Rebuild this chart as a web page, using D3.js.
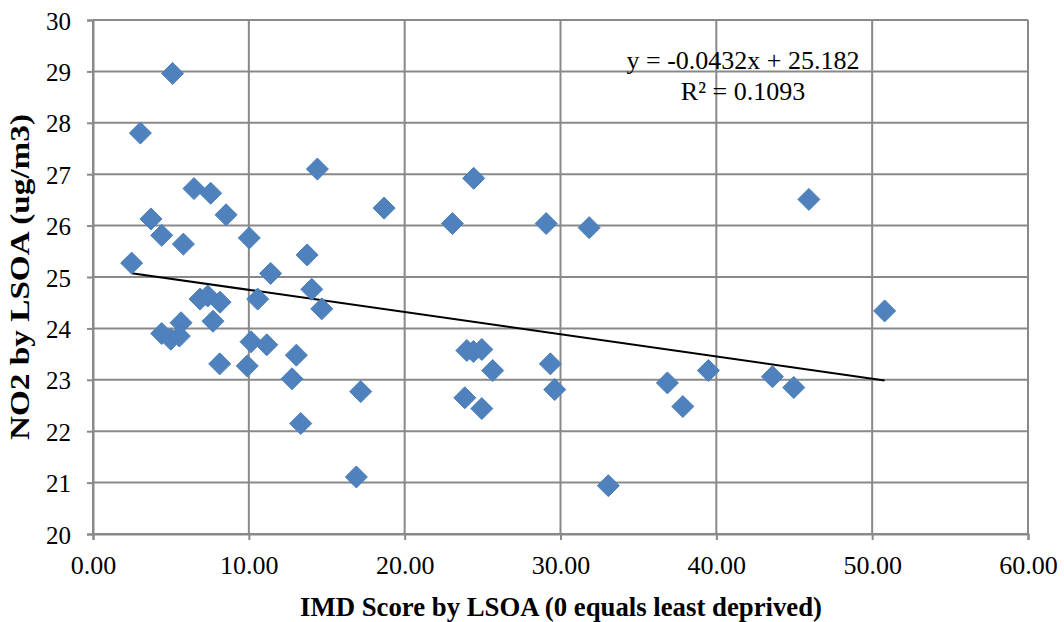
<!DOCTYPE html>
<html>
<head>
<meta charset="utf-8">
<script src="https://cdn.jsdelivr.net/npm/d3@7"></script>
<style>
  html, body { margin: 0; padding: 0; background: #fff; }
  svg { display: block; }
  text { font-family: "Liberation Serif", "Times New Roman", serif; fill: #000; }
</style>
</head>
<body>
<svg id="chart" width="1064" height="622"></svg>
<script>
// IMD score per LSOA (x) and NO2 concentration per LSOA (y)
const imdScore = [
  2.48, 3.04, 5.11, 3.72, 4.41, 5.80, 6.48, 7.55, 8.54, 10.03,
  11.40, 13.74, 14.40, 18.68, 6.87, 7.36, 8.15, 10.57, 14.04, 14.68,
  5.65, 7.70, 4.41, 4.99, 5.54, 10.14, 11.15, 8.13, 9.90, 13.05,
  12.77, 17.18, 13.33, 16.90, 24.43, 23.06, 29.08, 31.84, 23.99, 24.41,
  24.95, 25.65, 29.35, 29.63, 23.86, 24.95, 33.07, 36.86, 37.85, 39.49,
  45.94, 50.80, 43.60, 44.97
];
const no2 = [
  25.27, 27.80, 28.96, 26.13, 25.81, 25.64, 26.72, 26.63, 26.21, 25.76,
  25.07, 25.43, 27.10, 26.34, 24.57, 24.63, 24.51, 24.57, 24.76, 24.38,
  24.11, 24.14, 23.90, 23.79, 23.85, 23.74, 23.68, 23.31, 23.27, 23.48,
  23.02, 22.77, 22.15, 21.11, 26.92, 26.04, 26.04, 25.96, 23.57, 23.55,
  23.59, 23.18, 23.31, 22.81, 22.65, 22.44, 20.94, 22.94, 22.48, 23.18,
  26.51, 24.34, 23.06, 22.85
];

// Linear trend line
const trendSlope = -0.0432;
const trendIntercept = 25.182;
const rSquared = 0.1093;

const xTicks = [0, 10, 20, 30, 40, 50, 60];
const yTicks = [20, 21, 22, 23, 24, 25, 26, 27, 28, 29, 30];

const xTitle = "IMD Score by LSOA (0 equals least deprived)";
const yTitle = "NO2 by LSOA (ug/m3)";

const svg = d3.select("#chart");
const plotLeft = 93, plotRight = 1028, plotTop = 20, plotBottom = 534;

const x = d3.scaleLinear().domain([0, 60]).range([plotLeft, plotRight]);
const y = d3.scaleLinear().domain([20, 30]).range([plotBottom, plotTop]);

const gridColor = "#898989";

// Gridlines
const grid = svg.append("g");
grid.selectAll("line.h").data(yTicks).join("line")
  .attr("class", "h")
  .attr("x1", plotLeft).attr("x2", plotRight)
  .attr("y1", d => y(d)).attr("y2", d => y(d))
  .attr("stroke", gridColor).attr("stroke-width", 2);
grid.selectAll("line.v").data(xTicks).join("line")
  .attr("class", "v")
  .attr("x1", d => x(d)).attr("x2", d => x(d))
  .attr("y1", plotTop).attr("y2", plotBottom)
  .attr("stroke", gridColor).attr("stroke-width", 2);

// Y axis
const yAxis = svg.append("g")
  .attr("transform", `translate(${plotLeft},0)`)
  .call(d3.axisLeft(y).tickValues(yTicks).tickSize(6).tickPadding(16).tickFormat(d3.format("d")));
yAxis.select(".domain").attr("stroke", gridColor).attr("stroke-width", 2);
yAxis.selectAll(".tick line").attr("stroke", gridColor).attr("stroke-width", 2);
yAxis.selectAll(".tick text")
  .style("font-family", "'Liberation Serif', serif")
  .style("font-size", "25px")
  .attr("dy", "0.36em")
  .attr("fill", "#000");

// X axis
const xAxis = svg.append("g")
  .attr("transform", `translate(0,${plotBottom})`)
  .call(d3.axisBottom(x).tickValues(xTicks).tickSize(6).tickPadding(16).tickFormat(d3.format(".2f")));
xAxis.select(".domain").attr("stroke", gridColor).attr("stroke-width", 2);
xAxis.selectAll(".tick line").attr("stroke", gridColor).attr("stroke-width", 2);
xAxis.selectAll(".tick text")
  .style("font-family", "'Liberation Serif', serif")
  .style("font-size", "26px")
  .attr("fill", "#000");

// Trend line across the data range
const xMin = d3.min(imdScore), xMax = d3.max(imdScore);
svg.append("line")
  .attr("x1", x(xMin)).attr("y1", y(trendIntercept + trendSlope * xMin))
  .attr("x2", x(xMax)).attr("y2", y(trendIntercept + trendSlope * xMax))
  .attr("stroke", "#000").attr("stroke-width", 2);

// Diamond markers
const r = 11;
const diamond = `M0,${-r}L${r},0L0,${r}L${-r},0Z`;
svg.append("g").selectAll("path").data(imdScore.map((v, i) => [v, no2[i]])).join("path")
  .attr("d", diamond)
  .attr("transform", d => `translate(${x(d[0])},${y(d[1])})`)
  .attr("fill", "#4F81BD")
  .attr("stroke", "#4A7EBB").attr("stroke-width", 1);

// Trend equation label
const eq = svg.append("g").attr("text-anchor", "middle").style("font-size", "26px");
eq.append("text").attr("x", 743).attr("y", 69)
  .text(`y = ${trendSlope}x + ${trendIntercept}`);
eq.append("text").attr("x", 743).attr("y", 100)
  .text(`R² = ${rSquared}`);

// Axis titles
svg.append("text")
  .attr("x", 561).attr("y", 616)
  .attr("text-anchor", "middle")
  .style("font-size", "27px").style("font-weight", "bold")
  .attr("textLength", 522).attr("lengthAdjust", "spacingAndGlyphs")
  .text(xTitle);

svg.append("text")
  .attr("transform", "translate(29,277) rotate(-90)")
  .attr("text-anchor", "middle")
  .style("font-size", "27px").style("font-weight", "bold")
  .attr("textLength", 326).attr("lengthAdjust", "spacingAndGlyphs")
  .text(yTitle);
</script>
</body>
</html>
